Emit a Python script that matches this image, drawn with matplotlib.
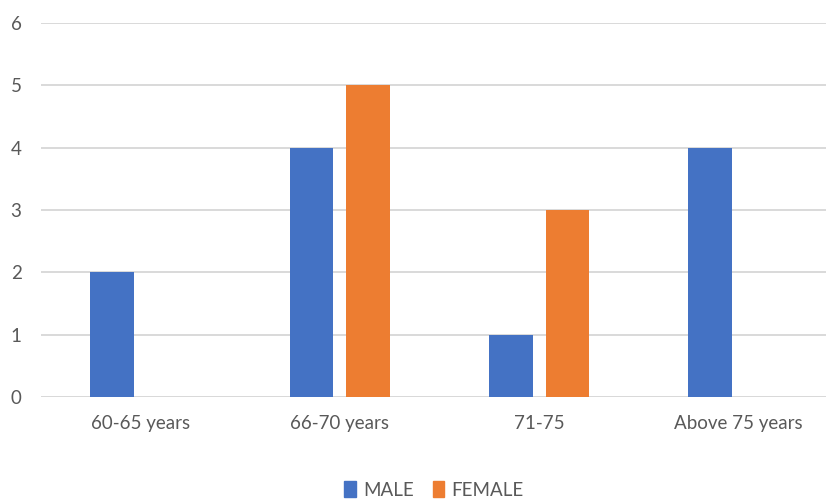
import matplotlib
matplotlib.use("Agg")
import matplotlib.pyplot as plt
import numpy as np
from matplotlib.patches import Patch

categories = ["60-65 years", "66-70 years", "71-75", "Above 75 years"]
male = [2, 4, 1, 4]
female = [0, 5, 3, 0]
yticks = [0, 1, 2, 3, 4, 5, 6]

BLUE = "#4472C4"
ORANGE = "#ED7D31"
GRID = "#D9D9D9"
TEXT = "#595959"

plt.rcParams["font.family"] = ["Lato", "DejaVu Sans"]

W, H = 826, 500
fig = plt.figure(figsize=(W / 100, H / 100), dpi=100)
left, right = 41 / W, 838 / W
bottom, top = 1 - 397 / H, 1 - 23 / H
ax = fig.add_axes([left, bottom, right - left, top - bottom])

x = np.arange(len(categories))
bw = 0.22
ax.bar(x - 0.142, male, width=bw, color=BLUE, zorder=3)
ax.bar(x + 0.142, female, width=bw, color=ORANGE, zorder=3)

ax.set_xlim(-0.5, len(categories) - 0.5)
ax.set_ylim(0, 6)
ax.set_yticks(yticks)
ax.yaxis.grid(True, color=GRID, linewidth=1.4, zorder=0)
ax.axhline(0, color=GRID, linewidth=1.8, zorder=2)
for s in ax.spines.values():
    s.set_visible(False)
ax.tick_params(axis="both", length=0, colors=TEXT, labelsize=13.5)
ax.tick_params(axis="y", pad=14)
ax.tick_params(axis="x", pad=13)
ax.set_xticks(x)
ax.set_xticklabels(categories)

handles = [Patch(color=BLUE, label="MALE"), Patch(color=ORANGE, label="FEMALE")]
fig.legend(handles=handles, loc="center", bbox_to_anchor=(434 / W, 1 - 490 / H),
           ncol=2, frameon=False, fontsize=13.5, labelcolor=TEXT,
           handlelength=0.6, handleheight=0.9, handletextpad=0.4, columnspacing=1.0)

fig.savefig("out.png", dpi=100)
